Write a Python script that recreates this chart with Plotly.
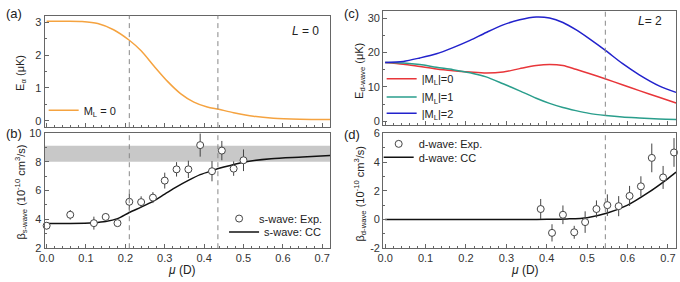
import plotly.graph_objects as go

# ---------------- data ----------------
# (a) L=0 energy curve
mu_a = [0.0, 0.05, 0.09, 0.13, 0.17, 0.21, 0.24, 0.273, 0.307, 0.34, 0.374, 0.408, 0.437, 0.475, 0.525, 0.576, 0.643, 0.72]
E_a = [3.03, 3.03, 3.02, 2.96, 2.77, 2.45, 2.13, 1.66, 1.20, 0.83, 0.57, 0.42, 0.35, 0.25, 0.14, 0.08, 0.05, 0.04]

# (b) s-wave experiment and CC
mu_b = [0.0, 0.06, 0.12, 0.15, 0.18, 0.21, 0.24, 0.27, 0.30, 0.33, 0.36, 0.39, 0.42, 0.445, 0.475, 0.50]
beta_b = [3.56, 4.32, 3.74, 4.17, 3.74, 5.22, 5.20, 5.51, 6.69, 7.47, 7.47, 9.15, 7.34, 8.77, 7.52, 8.10]
err_b = [0.25, 0.33, 0.45, 0.25, 0.15, 0.55, 0.40, 0.38, 0.55, 0.50, 0.60, 0.80, 0.70, 0.67, 0.50, 0.75]
mu_b_cc = [0.0, 0.06, 0.12, 0.15, 0.18, 0.21, 0.24, 0.27, 0.30, 0.33, 0.36, 0.39, 0.42, 0.45, 0.50, 0.57, 0.65, 0.72]
beta_b_cc = [3.71, 3.72, 3.77, 3.85, 4.05, 4.48, 4.85, 5.25, 5.75, 6.25, 6.70, 7.10, 7.38, 7.63, 7.97, 8.20, 8.32, 8.43]
band_b = [8.0, 9.1]

# (c) L=2 energy curves
mu_c = [0.0, 0.045, 0.086, 0.127, 0.168, 0.21, 0.25, 0.292, 0.333, 0.374, 0.407, 0.44, 0.472, 0.505, 0.546, 0.587, 0.629, 0.678, 0.72]
E_c0 = [17.1, 16.6, 15.9, 15.2, 14.7, 14.3, 14.0, 14.3, 15.3, 16.2, 16.5, 16.2, 15.1, 13.9, 12.3, 10.6, 8.9, 7.0, 5.3]
E_c1 = [17.1, 16.95, 16.5, 15.7, 15.0, 14.1, 12.9, 10.9, 8.85, 6.7, 5.2, 4.0, 3.1, 2.3, 1.7, 1.25, 0.95, 0.65, 0.5]
E_c2 = [17.1, 17.4, 18.4, 19.6, 21.4, 23.5, 25.8, 28.0, 29.5, 30.3, 30.0, 28.7, 26.6, 24.0, 20.5, 16.8, 13.5, 10.3, 8.4]

# (d) d-wave experiment and CC
mu_d = [0.385, 0.413, 0.44, 0.468, 0.495, 0.523, 0.55, 0.578, 0.605, 0.633, 0.66, 0.688, 0.715]
beta_d = [0.73, -0.93, 0.33, -0.89, -0.18, 0.73, 1.00, 0.93, 1.64, 2.31, 4.29, 2.93, 4.67]
err_d = [0.70, 0.60, 0.65, 0.45, 0.75, 0.60, 0.75, 0.70, 0.70, 0.70, 1.00, 0.80, 1.00]
mu_d_cc = [0.0, 0.1, 0.2, 0.3, 0.35, 0.4, 0.45, 0.5, 0.55, 0.6, 0.65, 0.7, 0.72]
beta_d_cc = [0.0, 0.0, 0.0, 0.0, 0.0, 0.01, 0.04, 0.13, 0.45, 1.0, 1.85, 2.85, 3.3]

# dashed marker positions
dash_left = [0.21, 0.435]
dash_right = [0.545]

# tick labels
xticks = [0.0, 0.1, 0.2, 0.3, 0.4, 0.5, 0.6, 0.7]
xtick_text = ["0.0", "0.1", "0.2", "0.3", "0.4", "0.5", "0.6", "0.7"]
yticks_a = [0, 1, 2, 3]
yticks_b = [2, 4, 6, 8, 10]
yticks_c = [0, 10, 20, 30]
yticks_d = [-2, 0, 2, 4, 6]
ytick_text_d = ["-2", "0", "2", "4", "6"]

# ---------------- styling ----------------
W, H = 680, 282
FONT = "Liberation Sans, Arial, sans-serif"
ORANGE = "#F5A340"
RED = "#E8363A"
TEAL = "#2A9E8C"
BLUE = "#2222CC"
FRAME = "#666666"


def dx(a, b):
    return [a / W, b / W]


def dy(top, bot):
    return [1 - bot / H, 1 - top / H]


fig = go.Figure()

line_black = dict(color="#111111", width=1.5, shape="spline", smoothing=0.8)
marker_open = dict(symbol="circle", size=7, color="white", line=dict(color="#444444", width=1))
err_style = dict(type="data", thickness=1, width=0, color="#444444")

# (a)
fig.add_trace(go.Scatter(x=mu_a, y=E_a, mode="lines", name="M<sub>L</sub> = 0", showlegend=True,
                         line=dict(color=ORANGE, width=1.5, shape="spline", smoothing=0.8),
                         xaxis="x", yaxis="y", legend="legend"))
# (b)
fig.add_trace(go.Scatter(x=mu_b_cc, y=beta_b_cc, mode="lines", name="s-wave: CC", showlegend=True,
                         line=line_black, xaxis="x2", yaxis="y2", legend="legend3"))
fig.add_trace(go.Scatter(x=mu_b, y=beta_b, mode="markers", name="s-wave: Exp.", showlegend=True,
                         marker=marker_open, error_y=dict(array=err_b, **err_style),
                         xaxis="x2", yaxis="y2", legend="legend2", cliponaxis=False))
# (c)
fig.add_trace(go.Scatter(x=mu_c, y=E_c0, mode="lines", name="|M<sub>L</sub>|=0", showlegend=True,
                         line=dict(color=RED, width=1.5, shape="spline", smoothing=0.8),
                         xaxis="x3", yaxis="y3", legend="legend4"))
fig.add_trace(go.Scatter(x=mu_c, y=E_c1, mode="lines", name="|M<sub>L</sub>|=1", showlegend=True,
                         line=dict(color=TEAL, width=1.5, shape="spline", smoothing=0.8),
                         xaxis="x3", yaxis="y3", legend="legend5"))
fig.add_trace(go.Scatter(x=mu_c, y=E_c2, mode="lines", name="|M<sub>L</sub>|=2", showlegend=True,
                         line=dict(color=BLUE, width=1.5, shape="spline", smoothing=0.8),
                         xaxis="x3", yaxis="y3", legend="legend6"))
# (d)
fig.add_trace(go.Scatter(x=mu_d_cc, y=beta_d_cc, mode="lines", name="d-wave: CC", showlegend=True,
                         line=line_black, xaxis="x4", yaxis="y4", legend="legend8"))
fig.add_trace(go.Scatter(x=mu_d, y=beta_d, mode="markers", name="d-wave: Exp.", showlegend=True,
                         marker=marker_open, error_y=dict(array=err_d, **err_style),
                         xaxis="x4", yaxis="y4", legend="legend7", cliponaxis=False))

axis_common = dict(showline=True, linecolor=FRAME, linewidth=1, mirror=True,
                   ticks="inside", ticklen=4, tickcolor=FRAME, tickwidth=1,
                   tickfont=dict(family=FONT, size=11, color="#333333"),
                   showgrid=False, zeroline=False)

XR = [-0.005, 0.72]


def xax(domain, anchor, labels):
    d = dict(axis_common)
    d.update(domain=domain, anchor=anchor, range=XR, tickmode="array",
             tickvals=xticks, ticktext=xtick_text, showticklabels=labels,
             minor=dict(ticks="inside", ticklen=2, tickcolor=FRAME, dtick=0.02, showgrid=False))
    return d


def yax(domain, anchor, rng, vals, text, minor_dt):
    d = dict(axis_common)
    d.update(domain=domain, anchor=anchor, range=rng, tickmode="array",
             tickvals=vals, ticktext=text,
             minor=dict(ticks="inside", ticklen=2, tickcolor=FRAME, dtick=minor_dt, showgrid=False))
    return d


LX = dx(39, 327)
RX = dx(380.5, 676)

fig.update_layout(
    width=W, height=H, margin=dict(l=0, r=0, t=0, b=0),
    paper_bgcolor="white", plot_bgcolor="white", showlegend=True,
    font=dict(family=FONT, size=11, color="#222222"),
    xaxis=xax(LX, "y", False),
    yaxis=yax(dy(10, 126.5), "x", [-0.19, 3.2], yticks_a, [str(v) for v in yticks_a], 0.5),
    xaxis2=xax(LX, "y2", True),
    yaxis2=yax(dy(132.5, 253), "x2", [2, 10], yticks_b, [str(v) for v in yticks_b], 1),
    xaxis3=xax(RX, "y3", False),
    yaxis3=yax(dy(5, 124), "x3", [-1.0, 32.1], yticks_c, [str(v) for v in yticks_c], 5),
    xaxis4=xax(RX, "y4", True),
    yaxis4=yax(dy(133, 253), "x4", [-2, 6], yticks_d, ytick_text_d, 1),
)


def leg(left_px, center_px):
    return dict(x=left_px / W, y=1 - center_px / H, xanchor="left", yanchor="middle",
                bgcolor="rgba(0,0,0,0)", borderwidth=0, visible=True,
                font=dict(family=FONT, size=11, color="#222222"))


fig.update_layout(
    legend=leg(38, 109),
    legend2=leg(215, 222),
    legend3=leg(220, 236),
    legend4=leg(379, 76),
    legend5=leg(379, 95),
    legend6=leg(379, 112),
    legend7=leg(376, 144),
    legend8=leg(376, 158),
)

shapes = []
for v in dash_left:
    for xa, ya in (("x", "y"), ("x2", "y2")):
        shapes.append(dict(type="line", xref=xa, yref=ya + " domain", x0=v, x1=v, y0=0, y1=1,
                           line=dict(color="#888888", width=1, dash="5px,4px")))
for v in dash_right:
    for xa, ya in (("x3", "y3"), ("x4", "y4")):
        shapes.append(dict(type="line", xref=xa, yref=ya + " domain", x0=v, x1=v, y0=0, y1=1,
                           line=dict(color="#888888", width=1, dash="5px,4px")))
shapes.append(dict(type="rect", xref="x2 domain", yref="y2", x0=0, x1=1, y0=band_b[0], y1=band_b[1],
                   fillcolor="#C8C8C8", line=dict(width=0), layer="below"))
fig.update_layout(shapes=shapes)


def ann(text, xpx, ypx, size=11, angle=0, xanchor="center"):
    return dict(text=text, x=xpx / W, y=1 - ypx / H, xref="paper", yref="paper",
                showarrow=False, xanchor=xanchor, yanchor="middle", textangle=angle,
                font=dict(family=FONT, size=size, color="#222222"))


annotations = [
    ann("(a)", -2, 8, 13, xanchor="left"),
    ann("(b)", -2, 133, 13, xanchor="left"),
    ann("(c)", 339, 8, 13, xanchor="left"),
    ann("(d)", 339, 134, 13, xanchor="left"),
    ann("<i>L</i> = 0", 302, 26, 12),
    ann("<i>L</i>= 2", 650, 16, 12),
    ann("E<sub>α</sub> (μK)", 15, 70, 11, -90),
    ann("β<sub>s-wave</sub> (10<sup>-10</sup> cm<sup>3</sup>/s)", 15, 194, 11, -90),
    ann("E<sub>d-wave</sub> (μK)", 357, 68, 11, -90),
    ann("β<sub>d-wave</sub> (10<sup>-10</sup> cm<sup>3</sup>/s)", 357, 196, 11, -90),
    ann("<i>μ</i> (D)", 178, 275.5, 12),
    ann("<i>μ</i> (D)", 524, 275.5, 12),
]
fig.update_layout(annotations=annotations)

fig.write_html("out.html")
